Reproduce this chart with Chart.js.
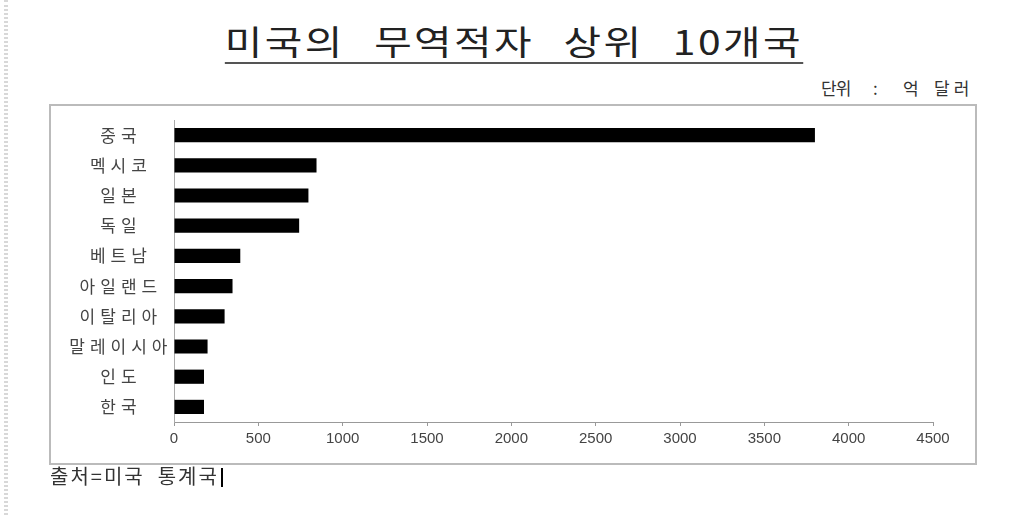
<!DOCTYPE html>
<html><head><meta charset="utf-8">
<script src="https://cdn.jsdelivr.net/npm/chart.js@4/dist/chart.umd.min.js"></script>
<style>
html,body{margin:0;padding:0;background:#fff;}
body{width:1027px;height:515px;position:relative;overflow:hidden;font-family:"Noto Sans CJK KR","Noto Sans",sans-serif;}
#dots{position:absolute;left:4px;top:0;width:4px;height:515px;border-left:2px dotted #d8d8d8;border-right:2px dotted #d8d8d8;box-sizing:border-box;}
#title{position:absolute;left:0;width:1027px;top:20px;text-align:center;font-size:34px;line-height:42px;color:#222;}
#title span{display:inline-block;transform:scaleX(1.2);transform-origin:center;letter-spacing:2px;word-spacing:15px;border-bottom:2px solid #555;padding:0 0 0 0;}
#unit{position:absolute;left:0;top:77px;width:1027px;height:22px;font-size:17px;line-height:22px;color:#333;}
#unit span{position:absolute;top:0;white-space:nowrap;}
#box{position:absolute;left:49px;top:104px;width:928px;height:361px;border:2px solid #bbb;box-sizing:border-box;}
#wrap{position:absolute;left:50px;top:104px;width:927px;height:361px;}
#src{position:absolute;left:50px;top:464px;font-size:20px;line-height:24px;color:#333;letter-spacing:2px;white-space:pre;}
#src i{display:inline-block;width:2px;height:19px;background:#000;vertical-align:-3px;margin-left:2px;}
</style></head>
<body>
<div id="dots"></div>
<div id="title"><span>미국의 무역적자 상위 10개국</span></div>
<div id="unit"><span style="left:821px;letter-spacing:-1px">단위</span><span style="left:873px"> : </span><span style="left:903px">억</span><span style="left:934px;letter-spacing:4px">달러</span></div>
<div id="box"></div>
<div id="wrap"><canvas id="c" width="927" height="361"></canvas></div>
<div id="src">출처=미국  통계국<i></i></div>
<script>
const countries = ["중국","멕시코","일본","독일","베트남","아일랜드","이탈리아","말레이시아","인도","한국"];
const deficits = [3800, 845, 797, 742, 393, 347, 300, 199, 178, 178];
const xTicks = [0,500,1000,1500,2000,2500,3000,3500,4000,4500];

const spacingPlugin = {
  id:'ySpacing',
  beforeDraw(chart){
    const s = chart.scales.y;
    if (s && !s._wrapped){
      const orig = s.drawLabels;
      s.drawLabels = function(ca){
        const ctx = this.ctx;
        ctx.save();
        ctx.letterSpacing = '5px';
        orig.call(this, ca);
        ctx.restore();
      };
      s._wrapped = true;
    }
  }
};

new Chart(document.getElementById('c'), {
  type:'bar',
  data:{labels:countries, datasets:[{data:deficits, backgroundColor:'#000', borderWidth:0, barPercentage:0.47, categoryPercentage:1}]},
  options:{
    indexAxis:'y', responsive:false, animation:false,
    layout:{padding:{left:0,top:16,right:44,bottom:0}},
    plugins:{legend:{display:false},tooltip:{enabled:false}},
    scales:{
      x:{min:0,max:4500,
        afterBuildTicks(sc){ sc.ticks = xTicks.map(v=>({value:v})); },
        afterFit(sc){ sc.height = 43; sc.paddingLeft = 0; sc.paddingRight = 0; },
        grid:{drawOnChartArea:false,drawTicks:true,tickLength:4,color:'#999',lineWidth:1},
        border:{display:true,color:'#999',width:1},
        ticks:{padding:4,color:'#444',callback:(v)=>String(v),font:{family:'"Liberation Sans", Arial, sans-serif',size:15}}
      },
      y:{
        afterFit(sc){ sc.width = 124; sc.paddingTop = 0; sc.paddingBottom = 0; },
        grid:{display:false},
        border:{display:true,color:'#aaa',width:1},
        ticks:{crossAlign:'center',padding:6,color:'#444',font:{family:'"Noto Sans CJK KR", sans-serif',size:17}}
      }
    }
  },
  plugins:[spacingPlugin]
});
</script>
</body></html>
